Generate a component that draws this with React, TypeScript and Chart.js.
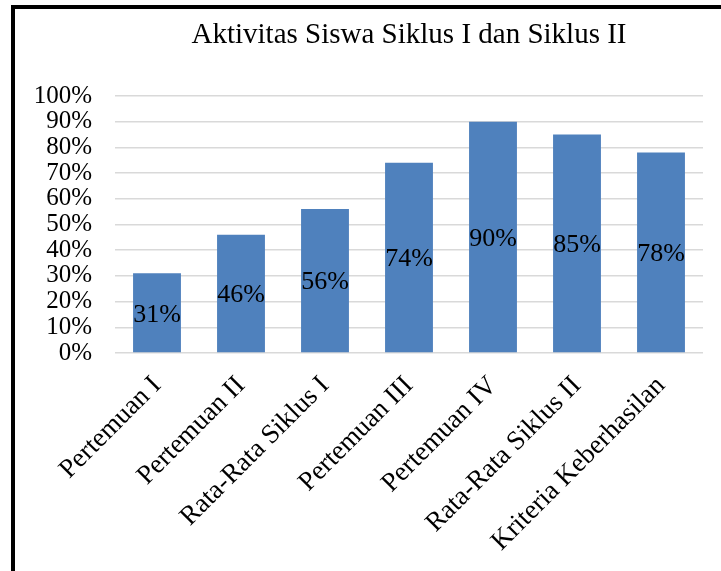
import React, { useEffect, useRef } from "react";
import { Chart, registerables } from "chart.js";

Chart.register(...registerables);

const categories = [
  "Pertemuan I",
  "Pertemuan II",
  "Rata-Rata Siklus I",
  "Pertemuan III",
  "Pertemuan IV",
  "Rata-Rata Siklus II",
  "Kriteria Keberhasilan",
];
const values = [31, 46, 56, 74, 90, 85, 78];
const titleText = "Aktivitas Siswa Siklus I dan Siklus II";
const FONT = "'Liberation Serif', 'Times New Roman', serif";

const valueLabels = {
  id: "valueLabels",
  afterDatasetsDraw(chart: any) {
    const ctx = chart.ctx;
    const meta = chart.getDatasetMeta(0);
    ctx.save();
    ctx.font = `26px ${FONT}`;
    ctx.fillStyle = "#000";
    ctx.textAlign = "center";
    ctx.textBaseline = "middle";
    meta.data.forEach((el: any, i: number) => {
      const y = (el.y + el.base) / 2;
      ctx.fillText(`${values[i]}%`, el.x, y + 2);
    });
    // title centred over plot area
    const a = chart.chartArea;
    ctx.font = `29px ${FONT}`;
    ctx.textBaseline = "alphabetic";
    ctx.fillText(titleText, (a.left + a.right) / 2, 43);
    ctx.restore();
  },
};

export default function App() {
  const ref = useRef<HTMLCanvasElement | null>(null);
  useEffect(() => {
    if (!ref.current) return;
    const chart = new Chart(ref.current, {
      type: "bar",
      data: {
        labels: categories,
        datasets: [
          {
            data: values,
            backgroundColor: "#4f81bd",
            borderWidth: 0,
            barPercentage: 0.57,
            categoryPercentage: 1,
          },
        ],
      },
      options: {
        animation: false,
        responsive: false,
        maintainAspectRatio: false,
        layout: { padding: { left: 0, right: 18, top: 96, bottom: 0 } },
        plugins: {
          legend: { display: false },
          tooltip: { enabled: false },
          title: { display: false },
        },
        scales: {
          x: {
            grid: { display: false, drawTicks: false },
            border: { display: false },
            ticks: {
              color: "#000",
              font: { family: FONT, size: 27 },
              minRotation: 45,
              maxRotation: 45,
              padding: 17,
              autoSkip: false,
            },
            afterFit: (s: any) => {
              s.height = 218;
            },
          },
          y: {
            min: 0,
            max: 100,
            grid: { color: "#d9d9d9", lineWidth: 1.5, drawTicks: false },
            border: { display: false },
            ticks: {
              stepSize: 10,
              autoSkip: false,
              color: "#000",
              font: { family: FONT, size: 25 },
              padding: 23,
              callback: (v: any) => `${v}%`,
            },
            afterFit: (s: any) => {
              s.width = 115;
            },
          },
        },
      },
      plugins: [valueLabels],
    });
    return () => chart.destroy();
  }, []);
  return (
    <div style={{ position: "fixed", left: 0, top: 0, width: 721, height: 571, background: "#fff" }}>
      <div
        style={{
          position: "absolute",
          left: 11,
          top: 5,
          right: 0,
          bottom: 0,
          borderLeft: "4px solid #000",
          borderTop: "4px solid #000",
        }}
      />
      <canvas ref={ref} width={721} height={571} style={{ position: "absolute", left: 0, top: 0 }} />
    </div>
  );
}
